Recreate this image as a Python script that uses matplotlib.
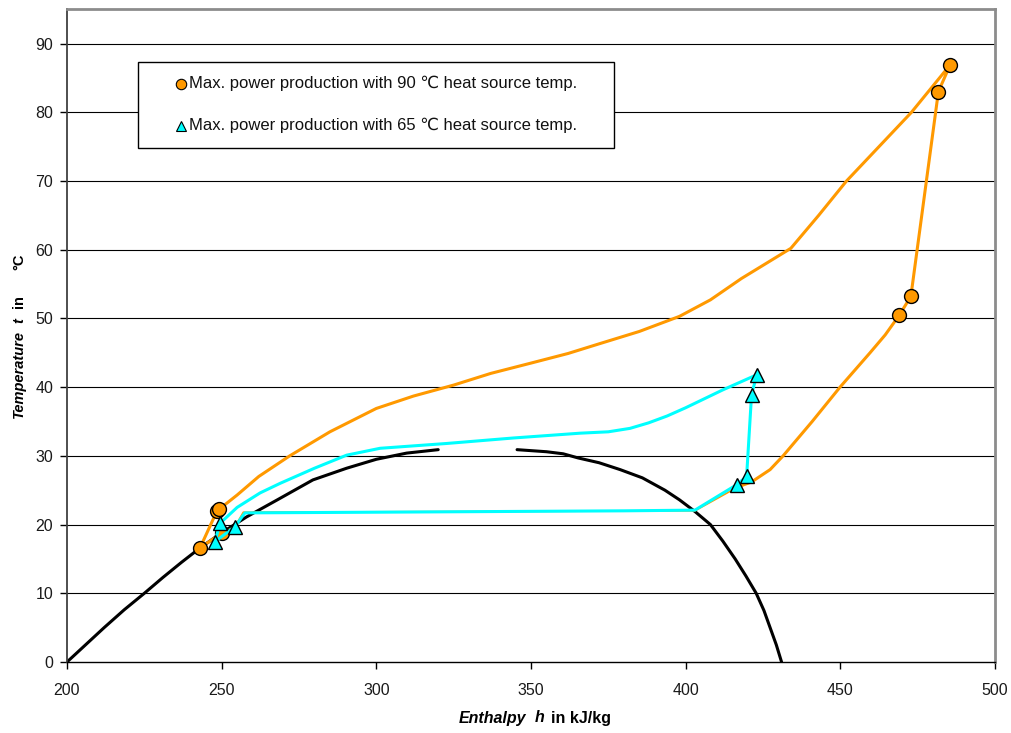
import matplotlib
matplotlib.use("Agg")
import matplotlib.pyplot as plt
from matplotlib.lines import Line2D
from matplotlib.patches import Rectangle

plt.rcParams['font.family'] = ['Liberation Sans', 'DejaVu Sans']

# Saturation dome (liquid and vapour branches)
sat_liq_h = [200, 206, 212, 218.5, 225, 231, 237, 243, 250, 258, 268, 279.5, 290.4, 300, 309.8, 320]
sat_liq_t = [0, 2.5, 5, 7.6, 10, 12.3, 14.5, 16.6, 18.8, 21.1, 23.6, 26.5, 28.2, 29.5, 30.4, 30.9]
sat_vap_h = [345.5, 355, 360.4, 365.2, 372, 378.8, 386, 393.3, 398, 403, 408, 412, 416, 419.5,
             422.8, 425.3, 427.3, 429.3, 431]
sat_vap_t = [30.9, 30.6, 30.3, 29.7, 29.0, 28.0, 26.8, 25.0, 23.6, 21.9, 20.0, 17.6, 15.0, 12.5,
             10.0, 7.5, 5.0, 2.5, 0]

# Cycle with 90 °C heat source: pump, heating, expansion
hot_h = [250.1, 243, 248.5, 249.1, 255, 262, 272, 285, 300, 312, 325, 337, 350, 362, 372, 385, 398,
         408, 418, 426, 434, 443, 452, 462.5, 473, 485.5, 481.7, 472.8, 469.1, 464.5, 459.6,
         449.9, 440.9, 431.5, 427.3, 421.3, 417]
hot_t = [18.8, 16.6, 22.0, 22.2, 24.3, 27.0, 30.0, 33.5, 36.9, 38.7, 40.3, 42.0, 43.5, 44.9, 46.3, 48.1, 50.3,
         52.7, 55.8, 58.0, 60.2, 65.0, 70.0, 75.0, 80.0, 86.9, 83.0, 53.2, 50.5, 47.6, 45.0,
         40.0, 35.0, 30.0, 28.0, 26.2, 25.5]
# condensation of the 90 °C cycle (runs beneath the 65 °C line)
hot_cond_h = [417, 403, 330, 257, 254.3, 250.1]
hot_cond_t = [25.5, 22.0, 21.9, 21.8, 19.7, 18.8]
hot_pts_h = [243, 248.5, 249.1, 250.1, 469.1, 472.8, 481.7, 485.5]
hot_pts_t = [16.6, 22.0, 22.2, 18.8, 50.5, 53.2, 83.0, 86.9]

# Cycle with 65 °C heat source
cold_h = [247.8, 249.5, 255, 262.4, 268.9, 280, 290.4, 301.2, 322.7, 344.3, 365.9, 375, 382, 388,
          394, 400, 406, 412, 418, 423, 421.3, 419.7, 416.5, 403, 380, 340, 300, 257.5, 254.3, 247.8]
cold_t = [17.5, 20.2, 22.5, 24.6, 26.0, 28.2, 30.1, 31.1, 31.8, 32.6, 33.3, 33.5, 34.0, 34.8,
          35.8, 37.0, 38.3, 39.6, 40.8, 41.8, 38.9, 27.0, 25.8, 22.1, 22.0, 21.9, 21.8, 21.7, 19.7, 17.5]
cold_pts_h = [247.8, 249.5, 254.3, 416.5, 419.7, 421.3, 423]
cold_pts_t = [17.5, 20.2, 19.7, 25.8, 27.0, 38.9, 41.8]

x_ticks = [200, 250, 300, 350, 400, 450, 500]
y_ticks = [0, 10, 20, 30, 40, 50, 60, 70, 80, 90]

legend_labels = ["Max. power production with 90 \u2103 heat source temp.",
                 "Max. power production with 65 \u2103 heat source temp."]

ORANGE = "#FF9900"
CYAN = "#00FFFF"

W, H = 1012, 733
fig = plt.figure(figsize=(W / 100, H / 100), dpi=100)
ax = fig.add_axes([67 / W, 71 / H, 928 / W, 652.8 / H])

ax.set_xlim(200, 500)
ax.set_ylim(0, 95)
ax.set_xticks(x_ticks)
ax.set_yticks(y_ticks)

for t in y_ticks[1:]:
    ax.axhline(t, color="black", lw=0.8, zorder=1)

ax.plot(sat_liq_h, sat_liq_t, color="black", lw=2.2, zorder=2, solid_capstyle="round")
ax.plot(sat_vap_h, sat_vap_t, color="black", lw=2.2, zorder=2, solid_capstyle="round")

ax.plot(hot_cond_h, hot_cond_t, color=ORANGE, lw=1.2, zorder=3, solid_joinstyle="round")
ax.plot(hot_h, hot_t, color=ORANGE, lw=2.2, zorder=3, solid_joinstyle="round")
ax.plot(hot_pts_h, hot_pts_t, linestyle="none", marker="o", markersize=10,
        markerfacecolor=ORANGE, markeredgecolor="black", markeredgewidth=1.0, zorder=4)

ax.plot(cold_h, cold_t, color=CYAN, lw=2.2, zorder=5, solid_joinstyle="round")
ax.plot(cold_pts_h, cold_pts_t, linestyle="none", marker="^", markersize=10,
        markerfacecolor=CYAN, markeredgecolor="black", markeredgewidth=1.0, zorder=6)

# Frame
ax.spines["left"].set_color("#404040")
ax.spines["left"].set_linewidth(1.3)
ax.spines["bottom"].set_color("black")
ax.spines["bottom"].set_linewidth(1.0)
for s in ("top", "right"):
    ax.spines[s].set_color("#8c8c8c")
    ax.spines[s].set_linewidth(2.0)

ax.tick_params(axis="both", direction="out", length=5, width=1, color="black",
               labelsize=11.5, labelcolor="#1a1a1a")
ax.tick_params(axis="y", pad=5)
ax.tick_params(axis="x", pad=10)


def fx(px):
    return px / W


def fy(py):
    return 1 - py / H


# Legend box with marker keys
fig.add_artist(Rectangle((fx(138), fy(148)), fx(614) - fx(138), fy(62) - fy(148),
                         transform=fig.transFigure, facecolor="white", edgecolor="black",
                         linewidth=1.0, zorder=10))
key_styles = [
    dict(marker="o", markerfacecolor=ORANGE, y=84),
    dict(marker="^", markerfacecolor=CYAN, y=126),
]
for label, st in zip(legend_labels, key_styles):
    fig.add_artist(Line2D([fx(181)], [fy(st["y"])], transform=fig.transFigure,
                          linestyle="none", marker=st["marker"], markersize=7.5,
                          markerfacecolor=st["markerfacecolor"], markeredgecolor="black",
                          markeredgewidth=0.8, zorder=11))
    fig.text(fx(189), fy(st["y"] - 1), label, fontsize=12, ha="left", va="center",
             color="#111111", zorder=11)

# Axis titles built from styled pieces
fig.text(fx(459), fy(718), "Enthalpy", fontsize=11.5, fontweight="bold", fontstyle="italic",
         ha="left", va="center")
fig.text(fx(535), fy(718), "h", fontsize=11.5, fontweight="bold", fontstyle="italic",
         ha="left", va="center")
fig.text(fx(551), fy(718), "in kJ/kg", fontsize=11.5, fontweight="bold",
         ha="left", va="center")

ylab = dict(fontsize=10.5, fontweight="bold", rotation=90, rotation_mode="anchor",
            ha="left", va="center")
fig.text(fx(19), fy(418), "Temperature", fontstyle="italic", **ylab)
fig.text(fx(19), fy(323), "t", fontstyle="italic", **ylab)
fig.text(fx(19), fy(308), "in", **ylab)
fig.text(fx(19), fy(270), "\u00b0C", **ylab)

fig.savefig("out.png", dpi=100)
